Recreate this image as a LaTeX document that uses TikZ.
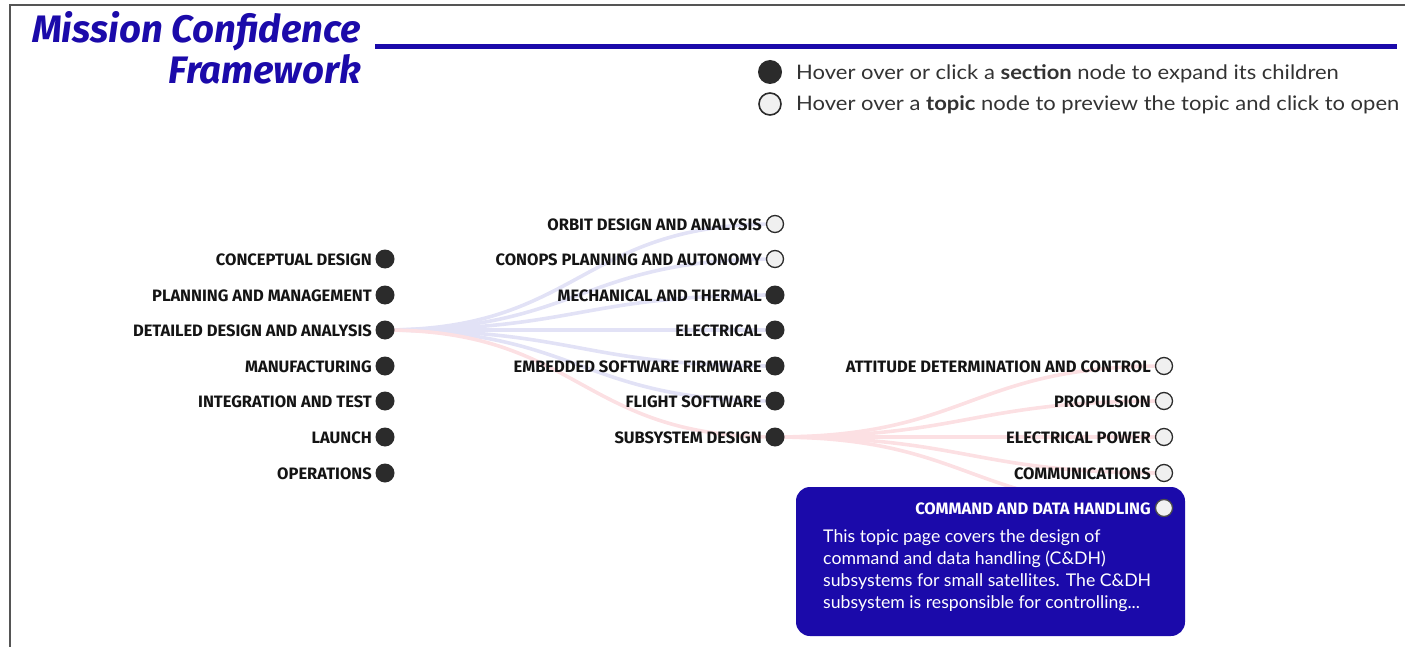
\documentclass[tikz,border=0pt]{standalone}
\usepackage{fontspec}
\usetikzlibrary{calc}
\newfontfamily\labfont{Fira Sans}
\newfontfamily\legfont{Lato}[FakeStretch=1.1]
\newfontfamily\tipfont{Lato}[FakeStretch=1.01]
\definecolor{mcblue}{HTML}{1B0AAA}
\definecolor{dotdark}{HTML}{2B2B2B}
\definecolor{edgeblue}{HTML}{E2E2F6}
\definecolor{edgepink}{HTML}{FCE0E3}
\definecolor{frame}{HTML}{555555}
\definecolor{legtext}{HTML}{333333}
\pgfdeclarelayer{edges}
\pgfdeclarelayer{boxes}
\pgfsetlayers{edges,boxes,main}
\tikzset{
  secdot/.style={circle,fill=dotdark,minimum size=19pt,inner sep=0pt},
  topdot/.style={circle,fill=black!6,draw=dotdark,line width=1.3pt,minimum size=17pt,inner sep=0pt},
  lab/.style={font=\labfont\bfseries\fontsize{16.5}{18}\selectfont,text=black!92,inner sep=0pt,anchor=base east},
  legtxt/.style={font=\legfont\fontsize{20}{24}\selectfont,text=legtext,inner sep=0pt,anchor=base west},
  titletxt/.style={font=\labfont\bfseries\itshape\fontsize{38.3}{41}\selectfont,text=mcblue,inner sep=0pt,anchor=base east},
  tipbox/.style={fill=mcblue,rounded corners=14pt,minimum width=389pt,minimum height=149pt,inner sep=0pt},
  lnk/.style={line width=3.6pt}
}
\newcommand{\mclink}[3]{%
  \path ($(#1)!0.5!(#2)$) coordinate (m-#1-#2);
  \draw[lnk,#3] (#1.center) .. controls (m-#1-#2 |- #1) and (m-#1-#2 |- #2) .. (#2.center);}
\begin{document}
\begin{tikzpicture}[x=1pt,y=-1pt]
\useasboundingbox (0,0) rectangle (1405,647);
% frame
\draw[frame,line width=2pt] (1405,5) -- (10,5) -- (10,647);
% title
\node[titletxt] (title1) at (361,43) {Mission Confidence};
\node[titletxt] (title2) at (361,84) {Framework};
\draw[mcblue,line width=5pt] (375,47) -- (1397,47);
% legend
\node[secdot,minimum size=24pt] (legsec) at (770,72) {};
\node[topdot,minimum size=22pt,line width=1.6pt] (legtop) at (770,104) {};
\node[legtxt] (legsect) at (796,80) {Hover over or click a \textbf{section} node to expand its children};
\node[legtxt] (legtopt) at (796,111) {Hover over a \textbf{topic} node to preview the topic and click to open};
% left column
\foreach \n/\y/\t in {a1/259/CONCEPTUAL DESIGN,a2/295/PLANNING AND MANAGEMENT,a3/330/DETAILED DESIGN AND ANALYSIS,a4/366/MANUFACTURING,a5/401/INTEGRATION AND TEST,a6/437/LAUNCH,a7/473/OPERATIONS}{
  \node[secdot] (\n) at (385,\y) {};
  \node[lab] (\n-t) at ($(\n)+(-13,6)$) {\t};
}
% middle column
\foreach \n/\y/\t/\s in {b1/224/ORBIT DESIGN AND ANALYSIS/topdot,b2/259/CONOPS PLANNING AND AUTONOMY/topdot,b3/295/MECHANICAL AND THERMAL/secdot,b4/330/ELECTRICAL/secdot,b5/366/EMBEDDED SOFTWARE FIRMWARE/secdot,b6/401/FLIGHT SOFTWARE/secdot,b7/437/SUBSYSTEM DESIGN/secdot}{
  \node[\s] (\n) at (775,\y) {};
  \node[lab] (\n-t) at ($(\n)+(-13,6)$) {\t};
}
% right column
\foreach \n/\y/\t in {c1/366/ATTITUDE DETERMINATION AND CONTROL,c2/401/PROPULSION,c3/437/ELECTRICAL POWER,c4/473/COMMUNICATIONS}{
  \node[topdot] (\n) at (1164,\y) {};
  \node[lab] (\n-t) at ($(\n)+(-13,6)$) {\t};
}
\node[topdot,fill=black!5,draw=black!70] (c5) at (1164,508) {};
\node[lab,text=white] (c5-t) at ($(c5)+(-13,6)$) {COMMAND AND DATA HANDLING};
% tooltip
\begin{pgfonlayer}{boxes}
\node[tipbox] (tip) at (990.5,561.5) {};
\end{pgfonlayer}
\node[font=\tipfont\fontsize{17.5}{22}\selectfont,text=white,inner sep=0pt,anchor=north west,align=left] (tiptext) at (823,529.5) {This topic page covers the design of\\command and data handling (C\&DH)\\subsystems for small satellites. The C\&DH\\subsystem is responsible for controlling...};
% links
\begin{pgfonlayer}{edges}
\foreach \b in {b1,b2,b3,b4,b5,b6}{\mclink{a3}{\b}{edgeblue}}
\mclink{a3}{b7}{edgepink}
\foreach \c in {c1,c2,c3,c4,c5}{\mclink{b7}{\c}{edgepink}}
\end{pgfonlayer}
\end{tikzpicture}
\end{document}
